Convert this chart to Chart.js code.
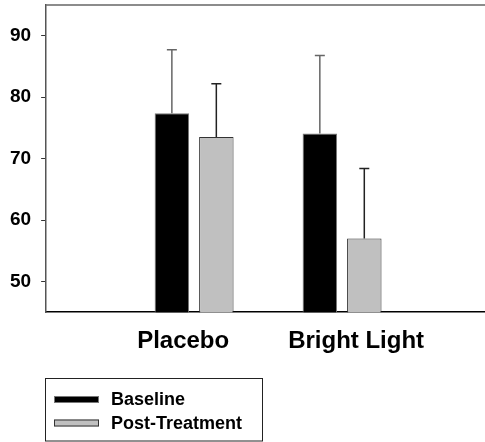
<!DOCTYPE html>
<html>
<head>
<meta charset="utf-8">
<script src="https://cdn.jsdelivr.net/npm/chart.js@4.4.1/dist/chart.umd.min.js"></script>
<style>
  html, body { margin: 0; padding: 0; background: #fff; }
  #wrap { position: relative; width: 485px; height: 442px; }
</style>
</head>
<body>
<div id="wrap"><canvas id="chart"></canvas></div>
<script>
// data
var groups = ['Placebo', 'Bright Light'];
var seriesNames = ['Baseline', 'Post-Treatment'];
var baseline = [77.4, 74.1];
var baselineErr = [10.3, 12.7];
var postTreatment = [73.5, 57.0];
var postTreatmentErr = [8.7, 11.4];
var yTicks = [50, 60, 70, 80, 90];

// layout (x is a linear scale, one unit per group)
var groupX = [1, 2];
var labelX = [0.926, 2.095];
var FONT = '"Liberation Sans", Arial, Helvetica, sans-serif';

var errorBars = {
    id: 'errorBars',
    afterDatasetsDraw: function(chart) {
        var ctx = chart.ctx;
        var y = chart.scales.y;
        ctx.save();
        chart.data.datasets.forEach(function(ds, di) {
            var meta = chart.getDatasetMeta(di);
            meta.data.forEach(function(bar, i) {
                var top = y.getPixelForValue(ds.data[i].y + ds.err[i]);
                ctx.strokeStyle = ds.errColor;
                ctx.lineWidth = 1.5;
                ctx.beginPath();
                ctx.moveTo(bar.x, bar.y);
                ctx.lineTo(bar.x, top);
                ctx.moveTo(bar.x - 5, top);
                ctx.lineTo(bar.x + 5, top);
                ctx.stroke();
            });
        });
        ctx.restore();
    }
};

var frameAndLegend = {
    id: 'frameAndLegend',
    afterDraw: function(chart) {
        var ctx = chart.ctx;
        var a = chart.chartArea;
        ctx.save();
        // top frame line
        ctx.strokeStyle = '#666';
        ctx.lineWidth = 1.5;
        ctx.beginPath();
        ctx.moveTo(a.left, a.top);
        ctx.lineTo(chart.width, a.top);
        ctx.stroke();

        // legend box
        ctx.strokeStyle = '#222';
        ctx.lineWidth = 1;
        ctx.strokeRect(45.5, 378.5, 217, 62.5);
        var rows = [399.5, 423];
        chart.data.datasets.forEach(function(ds, i) {
            var cy = rows[i];
            ctx.fillStyle = ds.backgroundColor;
            ctx.fillRect(54, cy - 3.5, 45, 7);
            ctx.strokeStyle = ds.borderColor;
            ctx.strokeRect(54.5, cy - 3, 44, 6);
            ctx.fillStyle = '#000';
            ctx.font = 'bold 18px ' + FONT;
            ctx.textBaseline = 'middle';
            ctx.textAlign = 'left';
            ctx.fillText(ds.label, 111, cy + 1);
        });
        ctx.restore();
    }
};

function points(values) {
    return values.map(function(v, i) { return { x: groupX[i], y: v }; });
}

var ctx = document.getElementById('chart').getContext('2d');
var chart = new Chart(ctx, {
    type: 'bar',
    data: {
        datasets: [{
            label: seriesNames[0],
            data: points(baseline),
            err: baselineErr,
            errColor: '#666',
            backgroundColor: '#000',
            borderColor: '#777',
            borderWidth: 1
        }, {
            label: seriesNames[1],
            data: points(postTreatment),
            err: postTreatmentErr,
            errColor: '#222',
            backgroundColor: '#c0c0c0',
            borderColor: '#333',
            borderWidth: 1
        }]
    },
    options: {
        responsive: true,
        maintainAspectRatio: false,
        animation: false,
        categoryPercentage: 0.601,
        barPercentage: 0.775,
        layout: { padding: { left: 0, right: 0, top: 5, bottom: 79 } },
        plugins: {
            legend: { display: false },
            tooltip: { enabled: false }
        },
        scales: {
            x: {
                type: 'linear',
                offset: false,
                bounds: 'data',
                min: 0,
                max: 2.966,
                afterBuildTicks: function(scale) {
                    scale.ticks = labelX.map(function(v) { return { value: v }; });
                },
                ticks: {
                    autoSkip: false,
                    maxRotation: 0,
                    padding: 7,
                    color: '#000',
                    font: { family: FONT, size: 24, weight: 'bold' },
                    callback: function(value, index) { return groups[index]; }
                },
                grid: { display: false, offset: false },
                border: { display: true, color: '#000', width: 1.5 }
            },
            y: {
                min: 45,
                max: 95,
                afterBuildTicks: function(scale) {
                    scale.ticks = yTicks.map(function(v) { return { value: v }; });
                },
                afterFit: function(scale) {
                    // tick labels sit well inside the axis, no extra room needed
                    scale.paddingTop = 0;
                    scale.paddingBottom = 0;
                },
                ticks: {
                    padding: 10,
                    color: '#000',
                    font: { family: FONT, size: 19, weight: 'bold' }
                },
                grid: { drawOnChartArea: false, drawTicks: true, tickLength: 5, color: '#333' },
                border: { display: true, color: '#555', width: 1.5 }
            }
        }
    },
    plugins: [errorBars, frameAndLegend]
});
</script>
</body>
</html>
